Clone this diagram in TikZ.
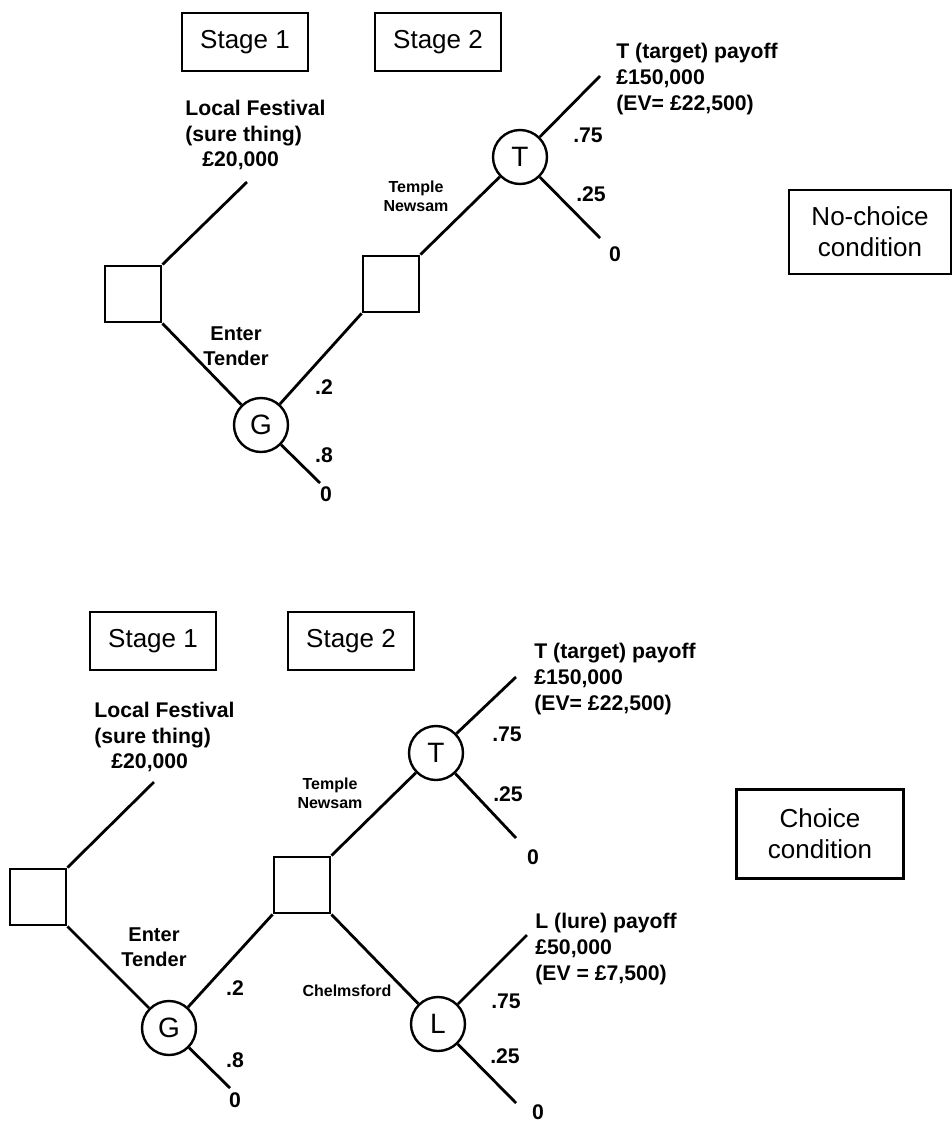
\documentclass[tikz,border=0pt]{standalone}
\usepackage{fontspec}
\setmainfont{Liberation Sans}
\usepackage{tikz}

\begin{document}
\begin{tikzpicture}
[x=0.5pt,y=-0.5pt,
    decisionDecorate/.style={shape=rectangle,draw=black,line width=1.4pt,minimum width=28pt,minimum height=28pt,inner sep=0pt},%
    chanceDecorate/.style={shape=circle,draw=black,line width=1.2pt,minimum size=27pt,inner sep=0pt,font=\fontsize{14}{16}\selectfont},%
    stageDecorate/.style={shape=rectangle,draw=black,line width=1.1pt,minimum width=63pt,minimum height=29pt,inner sep=0pt,font=\fontsize{13}{15}\selectfont},%
    conditionDecorate/.style={shape=rectangle,draw=black,line width=1.1pt,align=center,inner sep=0pt,font=\fontsize{13}{15.5}\selectfont},%
    labelDecorate/.style={align=left,inner sep=0pt,font=\bfseries\fontsize{10.6}{12.8}\selectfont},%
    probDecorate/.style={inner sep=0pt,font=\bfseries\fontsize{10.6}{12}\selectfont},%
    branchDecorate/.style={inner sep=0pt,align=center,font=\bfseries\fontsize{8}{9.5}\selectfont},%
    lineDecorate/.style={black,line width=1.4pt}]
    \useasboundingbox (0,0) rectangle (952,1125);
    %% no-choice condition (top)
    \node (stageOneA) at (245,42) [stageDecorate] {Stage 1};
    \node (stageTwoA) at (438,42) [stageDecorate] {Stage 2};
    \node (decA) at (133,294) [decisionDecorate] {};
    \node (gA) at (261,425) [chanceDecorate] {G};
    \node (decTA) at (391,284) [decisionDecorate] {};
    \node (tA) at (520,157) [chanceDecorate] {T};
    \node (noChoice) at (870,232) [conditionDecorate,minimum width=81pt,minimum height=42pt] {No-choice\\condition};
    \coordinate (festA) at (247,182);
    \coordinate (gAdown) at (320,483);
    \coordinate (tAup) at (600,76);
    \coordinate (tAdown) at (600,238);
    \node (festTextA) at (185,135) [labelDecorate,anchor=west] {Local Festival\\(sure thing)\\\hspace*{8.5pt}£20,000};
    \node (payTA) at (616,79) [labelDecorate,anchor=west] {T (target) payoff\\£150,000\\(EV= £22,500)};
    \node (templeA) at (416,196) [branchDecorate] {Temple\\Newsam};
    \node (tenderA) at (236,346) [labelDecorate,align=center,font=\bfseries\fontsize{10}{12.5}\selectfont] {Enter\\Tender};
    %% choice condition (bottom)
    \node (stageOneB) at (153,641) [stageDecorate] {Stage 1};
    \node (stageTwoB) at (351,641) [stageDecorate] {Stage 2};
    \node (decB) at (38,897) [decisionDecorate] {};
    \node (gB) at (169,1028) [chanceDecorate] {G};
    \node (decTB) at (302,885) [decisionDecorate] {};
    \node (tB) at (436,753) [chanceDecorate] {T};
    \node (lB) at (438,1024) [chanceDecorate] {L};
    \node (choice) at (820,834) [conditionDecorate,minimum width=83.5pt,minimum height=44.5pt] {Choice\\condition};
    \coordinate (festB) at (154,782);
    \coordinate (gBdown) at (230,1088);
    \coordinate (tBup) at (516,677);
    \coordinate (tBdown) at (516,838);
    \coordinate (lBup) at (527,935);
    \coordinate (lBdown) at (516,1103);
    \node (festTextB) at (94,737) [labelDecorate,anchor=west] {Local Festival\\(sure thing)\\\hspace*{8.5pt}£20,000};
    \node (payTB) at (534,679) [labelDecorate,anchor=west] {T (target) payoff\\£150,000\\(EV= £22,500)};
    \node (payLB) at (535,949) [labelDecorate,anchor=west] {L (lure) payoff\\£50,000\\(EV = £7,500)};
    \node (templeB) at (330,793) [branchDecorate] {Temple\\Newsam};
    \node (chelmsB) at (347,991) [branchDecorate] {Chelmsford};
    \node (tenderB) at (154,947) [labelDecorate,align=center,font=\bfseries\fontsize{10}{12.5}\selectfont] {Enter\\Tender};
    %% probabilities and zero payoffs
    \foreach \nodename/\x/\y/\txt in {pGA/324/387/.2, qGA/324/455/.8, zGA/326/494/0, pTA/588/135/.75, qTA/591/194/.25, zTA/615/254/0, pGB/235/988/.2, qGB/235/1060/.8, zGB/235/1100/0, pTB/507/734/.75, qTB/508/794/.25, zTB/533/857/0, pLB/506/1001/.75, qLB/505/1056/.25, zLB/538/1112/0}
    {
        \node (\nodename) at (\x,\y) [probDecorate] {\txt};
    }
    %% edges or lines
    \path\foreach \startnode/\endnode in {decA.north east/festA, decA.south east/gA, gA/decTA.south west, decTA.north east/tA, gA/gAdown, tA/tAup, tA/tAdown, decB.north east/festB, decB.south east/gB, gB/decTB.south west, decTB.north east/tB, decTB.south east/lB, gB/gBdown, tB/tBup, tB/tBdown, lB/lBup, lB/lBdown}
    {
        (\startnode) edge[lineDecorate] (\endnode)
    };
\end{tikzpicture}
\end{document}
